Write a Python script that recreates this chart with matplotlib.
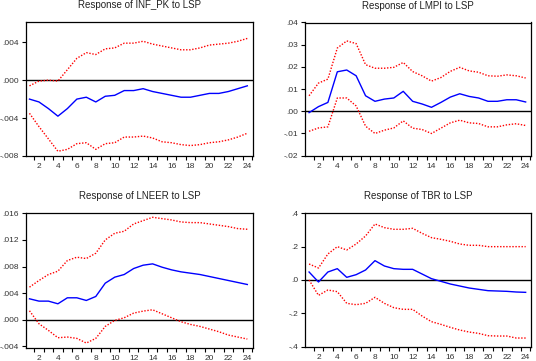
import matplotlib
matplotlib.use("Agg")
import matplotlib.pyplot as plt
import numpy as np

plt.rcParams['font.family'] = ['Liberation Sans', 'DejaVu Sans']

periods = np.arange(1, 25)

# Response of INF_PK to LSP
inf_resp = [-0.0020, -0.0023, -0.0030, -0.0038, -0.0030, -0.0020, -0.0018, -0.0023,
            -0.0017, -0.0016, -0.0011, -0.0011, -0.0009, -0.0012, -0.0014, -0.0016,
            -0.0018, -0.0018, -0.0016, -0.0014, -0.0014, -0.0012, -0.0009, -0.0006]
inf_up = [-0.0006, -0.0001, 0.0000, -0.0001, 0.0011, 0.0023, 0.0029, 0.0027,
          0.0033, 0.0034, 0.0039, 0.0039, 0.0041, 0.0038, 0.0036, 0.0034,
          0.0032, 0.0032, 0.0034, 0.0037, 0.0038, 0.0039, 0.0041, 0.0044]
inf_lo = [-0.0035, -0.0049, -0.0062, -0.0075, -0.0073, -0.0067, -0.0066, -0.0073,
          -0.0067, -0.0066, -0.0060, -0.0060, -0.0059, -0.0061, -0.0065, -0.0066,
          -0.0068, -0.0069, -0.0068, -0.0066, -0.0065, -0.0063, -0.0060, -0.0056]

# Response of LMPI to LSP
lmpi_resp = [-0.0006, 0.0021, 0.0040, 0.0178, 0.0186, 0.0160, 0.0070, 0.0045,
             0.0055, 0.0060, 0.0090, 0.0045, 0.0033, 0.0018, 0.0040, 0.0064,
             0.0079, 0.0067, 0.0060, 0.0045, 0.0045, 0.0052, 0.0052, 0.0042]
lmpi_up = [0.0070, 0.0127, 0.0145, 0.0285, 0.0317, 0.0305, 0.0210, 0.0194,
           0.0194, 0.0198, 0.0220, 0.0179, 0.0160, 0.0136, 0.0152, 0.0180,
           0.0198, 0.0182, 0.0176, 0.0160, 0.0158, 0.0164, 0.0160, 0.0150]
lmpi_lo = [-0.0090, -0.0075, -0.0070, 0.0060, 0.0060, 0.0024, -0.0067, -0.0100,
           -0.0085, -0.0075, -0.0043, -0.0076, -0.0082, -0.0100, -0.0076, -0.0052,
           -0.0040, -0.0052, -0.0055, -0.0070, -0.0070, -0.0061, -0.0056, -0.0064]

# Response of LNEER to LSP
lneer_resp = [0.00315, 0.0028, 0.0028, 0.0024, 0.0033, 0.0033, 0.0029, 0.0035,
              0.0055, 0.0064, 0.0068, 0.0077, 0.0082, 0.0084, 0.0079, 0.0075,
              0.0072, 0.0070, 0.0068, 0.0065, 0.0062, 0.0059, 0.0056, 0.0053]
lneer_up = [0.0049, 0.0059, 0.0068, 0.0073, 0.0089, 0.0094, 0.0092, 0.0100,
            0.0120, 0.0130, 0.0133, 0.0144, 0.0149, 0.0154, 0.0152, 0.0150,
            0.0147, 0.0146, 0.0146, 0.0144, 0.0142, 0.0140, 0.0137, 0.0136]
lneer_lo = [0.00135, -0.0006, -0.0016, -0.0027, -0.0026, -0.0028, -0.0035, -0.0028,
            -0.0010, -0.0001, 0.0003, 0.0010, 0.0013, 0.0015, 0.0009, 0.0003,
            -0.0003, -0.0007, -0.0010, -0.0014, -0.0018, -0.0023, -0.0026, -0.0029]

# Response of TBR to LSP
tbr_resp = [0.048, -0.012, 0.048, 0.068, 0.016, 0.032, 0.060, 0.116,
            0.084, 0.068, 0.064, 0.064, 0.036, 0.008, -0.008, -0.024,
            -0.036, -0.048, -0.056, -0.064, -0.066, -0.068, -0.072, -0.074]
tbr_up = [0.096, 0.072, 0.156, 0.200, 0.180, 0.216, 0.264, 0.336,
          0.314, 0.304, 0.304, 0.310, 0.280, 0.254, 0.244, 0.232,
          0.216, 0.208, 0.208, 0.200, 0.200, 0.200, 0.200, 0.200]
tbr_lo = [0.000, -0.092, -0.060, -0.070, -0.140, -0.148, -0.140, -0.104,
          -0.140, -0.166, -0.176, -0.176, -0.216, -0.250, -0.266, -0.284,
          -0.300, -0.312, -0.320, -0.334, -0.336, -0.336, -0.348, -0.348]

panels = [
    ("Response of INF_PK to LSP", inf_resp, inf_up, inf_lo,
     (-0.008, 0.0061), [-0.008, -0.004, 0.0, 0.004], 3),
    ("Response of LMPI to LSP", lmpi_resp, lmpi_up, lmpi_lo,
     (-0.02, 0.04), [-0.02, -0.01, 0.0, 0.01, 0.02, 0.03, 0.04], 2),
    ("Response of LNEER to LSP", lneer_resp, lneer_up, lneer_lo,
     (-0.0042, 0.016), [-0.004, 0.0, 0.004, 0.008, 0.012, 0.016], 3),
    ("Response of TBR to LSP", tbr_resp, tbr_up, tbr_lo,
     (-0.4, 0.4), [-0.4, -0.2, 0.0, 0.2, 0.4], 1),
]

# axes boxes in pixels: left, top, right, bottom
boxes = [(25.7, 22.3, 253, 156), (305.3, 22.5, 531.3, 155.7),
         (25.7, 213.3, 253, 347.7), (305.3, 213.3, 531.3, 346.7)]

W, H = 536, 361
fig = plt.figure(figsize=(W / 100, H / 100), dpi=100)


def fmt(v, d):
    s = f"{v:.{d}f}"
    return s.replace("0.", ".", 1)


for (title, resp, up, lo, ylim, yt, dec), (l, t, r, b) in zip(panels, boxes):
    ax = fig.add_axes([l / W, 1 - b / H, (r - l) / W, (b - t) / H])
    ax.axhline(0, color="black", lw=1.0)
    ax.plot(periods, resp, color="#0000ff", lw=1.0)
    ax.plot(periods, up, color="#ff0000", lw=1.0, ls=(0, (1, 1.2)))
    ax.plot(periods, lo, color="#ff0000", lw=1.0, ls=(0, (1, 1.2)))
    ax.set_xlim(0.6, 24.6)
    ax.set_ylim(*ylim)
    ax.set_xticks(range(2, 25, 2))
    ax.set_xticks(np.arange(1.5, 24.6, 1), minor=True)
    ax.tick_params(axis="x", which="major", length=0, pad=5, labelsize=6, colors="#333333")
    ax.tick_params(axis="x", which="minor", length=3, width=0.8, direction="out", color="black")
    ax.set_yticks(yt)
    ax.set_yticklabels([fmt(v, dec) for v in yt])
    ax.tick_params(axis="y", length=3, width=0.8, direction="out", labelsize=6,
                   pad=2, color="black", labelcolor="#333333")
    for sp in ax.spines.values():
        sp.set_linewidth(0.9)
    ax.set_title(title, fontsize=7, pad=10, color="#222222")

plt.savefig("out.png", dpi=100)
